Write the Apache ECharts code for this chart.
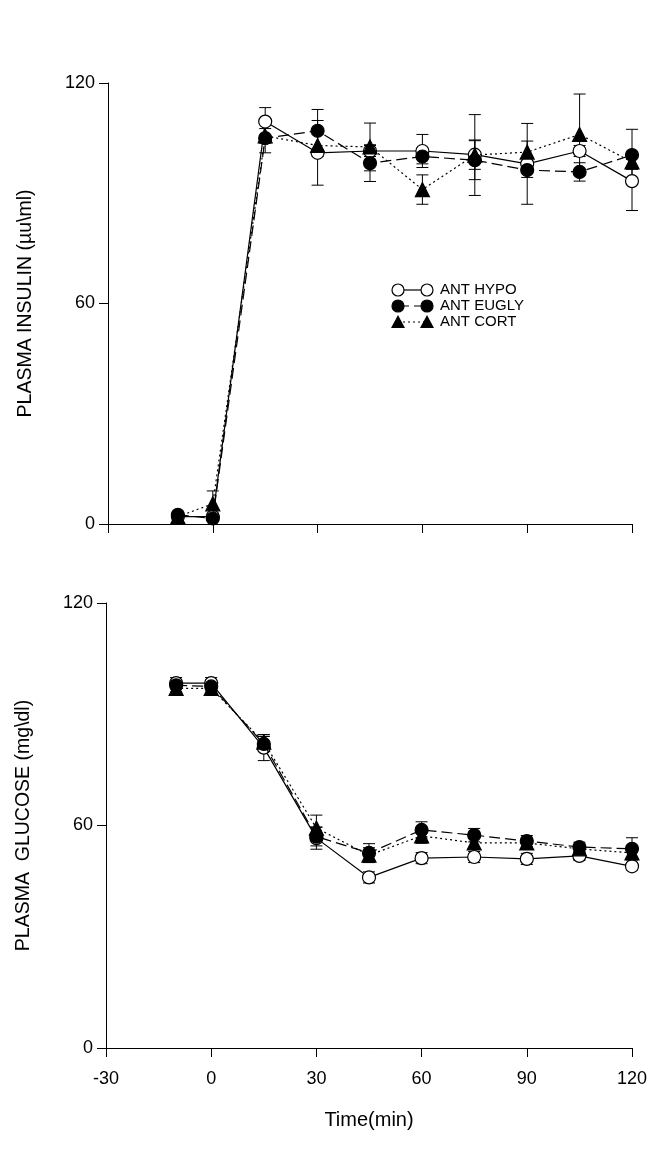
<!DOCTYPE html>
<html>
<head>
<meta charset="utf-8">
<script src="https://cdn.jsdelivr.net/npm/echarts@6/dist/echarts.min.js"></script>
<style>
  html, body { margin: 0; padding: 0; background: #fff; }
  #chart { width: 652px; height: 1162px; }
</style>
</head>
<body>
<div id="chart"></div>
<script>
// Sampling times (min) and axis ticks
const times = [-10, 0, 15, 30, 45, 60, 75, 90, 105, 120];
const xTicks = [-30, 0, 30, 60, 90, 120];
const yTicks = [0, 60, 120];
const groupNames = ['ANT HYPO', 'ANT EUGLY', 'ANT CORT'];

// Plasma insulin (µU/ml): means and SEM
const insulinHypo  = [2, 2, 109.5, 101, 101.5, 101.5, 100.5, 98, 101.5, 93.3];
const insulinEugly = [2.5, 1.5, 105, 107, 98.2, 100, 99, 96.3, 95.8, 100.4];
const insulinCort  = [2, 5.5, 105.6, 103, 102.6, 91, 100.4, 101.2, 106, 98.5];
const insulinHypoSem  = [1, 1, 3.8, 8.8, 1.5, 4.5, 4, 11, 1.5, 8];
const insulinEuglySem = [0.5, 0.5, 4, 5.8, 5, 2, 5.3, 2, 2.5, 7];
const insulinCortSem  = [0.5, 3.5, 2, 3, 6.5, 4, 11, 3, 11, 2];

// Plasma glucose (mg/dl): means and SEM
const glucoseHypo  = [98.4, 98.4, 81, 56.6, 46, 51.2, 51.5, 51, 51.8, 49];
const glucoseEugly = [97.8, 97.5, 82, 57, 52.6, 58.8, 57.4, 55.8, 54.2, 53.7];
const glucoseCort  = [97, 97, 82.5, 59.3, 52, 57.2, 55.3, 55.3, 53.7, 52.6];
const glucoseHypoSem  = [1.5, 1.5, 3.5, 3, 1.5, 1.5, 1.5, 1.5, 1.2, 1];
const glucoseEuglySem = [1, 1, 2, 2.5, 2.5, 2.2, 1.8, 1.5, 1.3, 3];
const glucoseCortSem  = [1, 1, 2, 3.5, 2, 2, 1.5, 1.5, 1.2, 1.5];

const FONT = 'Liberation Sans, Arial, sans-serif';

function pairs(vals) { return times.map((t, i) => [t, vals[i]]); }
function errPairs(vals, sem) { return times.map((t, i) => [t, vals[i] - sem[i], vals[i] + sem[i]]); }

// Vertical error bar with caps
function renderErr(params, api) {
  const x = api.value(0);
  const lo = api.coord([x, api.value(1)]);
  const hi = api.coord([x, api.value(2)]);
  const w = 6;
  const style = { stroke: '#000', lineWidth: 1 };
  return {
    type: 'group',
    children: [
      { type: 'line', shape: { x1: lo[0], y1: lo[1], x2: hi[0], y2: hi[1] }, style },
      { type: 'line', shape: { x1: hi[0] - w, y1: hi[1], x2: hi[0] + w, y2: hi[1] }, style },
      { type: 'line', shape: { x1: lo[0] - w, y1: lo[1], x2: lo[0] + w, y2: lo[1] }, style }
    ]
  };
}

const styles = [
  { symbol: 'circle', fill: '#fff', dash: 'solid' },
  { symbol: 'circle', fill: '#000', dash: [11, 5] },
  { symbol: 'triangle', fill: '#000', dash: [2, 3] }
];

function panelSeries(idx, valsList, semList) {
  const out = [];
  valsList.forEach((vals, k) => {
    out.push({
      type: 'custom',
      xAxisIndex: idx, yAxisIndex: idx,
      renderItem: renderErr,
      data: errPairs(vals, semList[k]),
      z: 1, silent: true
    });
  });
  valsList.forEach((vals, k) => {
    const s = styles[k];
    out.push({
      type: 'line',
      name: groupNames[k],
      xAxisIndex: idx, yAxisIndex: idx,
      data: pairs(vals),
      symbol: s.symbol,
      symbolSize: s.symbol === 'triangle' ? 14 : 13,
      showAllSymbol: true,
      lineStyle: { color: '#000', width: 1.2, type: s.dash },
      itemStyle: { color: s.fill, borderColor: '#000', borderWidth: 1.2 },
      z: 2 + k, silent: true, animation: false
    });
  });
  return out;
}

function xAxisCfg(idx, showLabels) {
  return {
    type: 'value', gridIndex: idx,
    min: xTicks[0], max: xTicks[xTicks.length - 1], interval: 30,
    axisLine: { show: true, onZero: false, lineStyle: { color: '#000', width: 1 } },
    axisTick: { show: true, inside: false, length: 9, lineStyle: { color: '#000' } },
    axisLabel: { show: showLabels, color: '#000', fontSize: 18, fontFamily: FONT, margin: 22 },
    splitLine: { show: false },
    name: showLabels ? 'Time(min)' : '',
    nameLocation: 'middle', nameGap: 62,
    nameTextStyle: { color: '#000', fontSize: 20, fontFamily: FONT }
  };
}

function yAxisCfg(idx, title) {
  return {
    type: 'value', gridIndex: idx,
    min: yTicks[0], max: yTicks[yTicks.length - 1], interval: 60,
    axisLine: { show: true, onZero: false, lineStyle: { color: '#000', width: 1 } },
    axisTick: { show: true, inside: false, length: 9, lineStyle: { color: '#000' } },
    axisLabel: { color: '#000', fontSize: 18, fontFamily: FONT, margin: 13 },
    splitLine: { show: false },
    name: title, nameLocation: 'middle', nameRotate: 90, nameGap: 72,
    nameTextStyle: { color: '#000', fontSize: 19.5, fontFamily: FONT }
  };
}

// Legend drawn as symbol–line–symbol rows
const legendX = 398, legendY = 290, legendStep = 16;
const legendItems = [];
groupNames.forEach((name, k) => {
  const cy = legendY + k * legendStep;
  const s = styles[k];
  legendItems.push({
    type: 'line', shape: { x1: legendX, y1: cy, x2: legendX + 29, y2: cy },
    style: { stroke: '#000', lineWidth: 1.2, lineDash: s.dash === 'solid' ? null : s.dash }
  });
  [legendX, legendX + 29].forEach(cx => {
    if (s.symbol === 'circle') {
      legendItems.push({ type: 'circle', shape: { cx, cy, r: 6 }, style: { fill: s.fill, stroke: '#000', lineWidth: 1.2 } });
    } else {
      legendItems.push({ type: 'polygon', shape: { points: [[cx, cy - 7], [cx + 7, cy + 6], [cx - 7, cy + 6]] }, style: { fill: '#000' } });
    }
  });
  legendItems.push({
    type: 'text', x: legendX + 42, y: cy,
    style: { text: name, fill: '#000', fontSize: 15, fontFamily: FONT, verticalAlign: 'middle' }
  });
});

const chart = echarts.init(document.getElementById('chart'), null, { renderer: 'canvas' });
chart.setOption({
  backgroundColor: '#fff',
  animation: false,
  grid: [
    { left: 108, top: 83, width: 524, height: 441 },
    { left: 106, top: 603, width: 526, height: 445 }
  ],
  xAxis: [xAxisCfg(0, false), xAxisCfg(1, true)],
  yAxis: [yAxisCfg(0, 'PLASMA INSULIN (µu\\ml)'), yAxisCfg(1, 'PLASMA  GLUCOSE (mg\\dl)')],
  series: [
    ...panelSeries(0, [insulinHypo, insulinEugly, insulinCort], [insulinHypoSem, insulinEuglySem, insulinCortSem]),
    ...panelSeries(1, [glucoseHypo, glucoseEugly, glucoseCort], [glucoseHypoSem, glucoseEuglySem, glucoseCortSem])
  ],
  graphic: legendItems
});
</script>
</body>
</html>
